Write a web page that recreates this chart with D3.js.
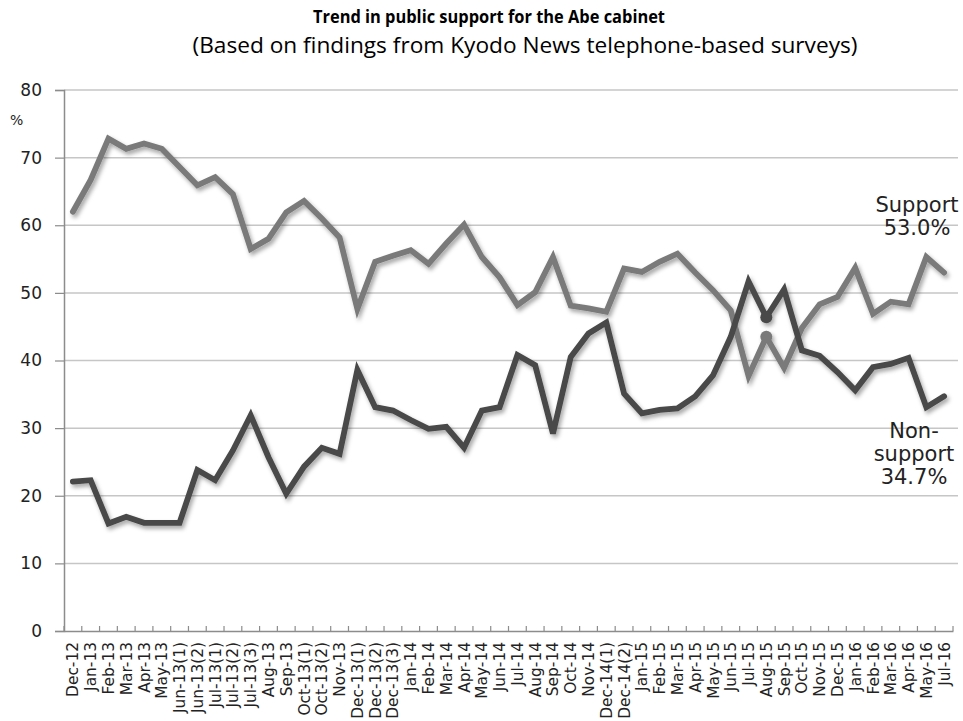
<!DOCTYPE html>
<html>
<head>
<meta charset="utf-8">
<script src="https://cdn.jsdelivr.net/npm/d3@7"></script>
<style>
  html, body { margin: 0; padding: 0; background: #fff; }
  svg { display: block; }
</style>
</head>
<body>
<svg id="chart" width="963" height="721"></svg>
<script>
// Survey rounds (Kyodo News telephone polls)
const categories = [
  "Dec-12","Jan-13","Feb-13","Mar-13","Apr-13","May-13","Jun-13(1)","Jun-13(2)",
  "Jul-13(1)","Jul-13(2)","Jul-13(3)","Aug-13","Sep-13","Oct-13(1)","Oct-13(2)","Nov-13",
  "Dec-13(1)","Dec-13(2)","Dec-13(3)","Jan-14","Feb-14","Mar-14","Apr-14","May-14",
  "Jun-14","Jul-14","Aug-14","Sep-14","Oct-14","Nov-14","Dec-14(1)","Dec-14(2)",
  "Jan-15","Feb-15","Mar-15","Apr-15","May-15","Jun-15","Jul-15","Aug-15",
  "Sep-15","Oct-15","Nov-15","Dec-15","Jan-16","Feb-16","Mar-16","Apr-16","May-16","Jul-16"
];

// Cabinet support rate (%)
const support = [
  62.0, 66.7, 72.8, 71.3, 72.1, 71.3, 68.6, 65.9,
  67.1, 64.6, 56.5, 58.0, 61.9, 63.6, 61.0, 58.2,
  47.6, 54.6, 55.5, 56.3, 54.3, 57.3, 60.1, 55.3,
  52.3, 48.2, 50.1, 55.3, 48.1, 47.7, 47.2, 53.6,
  53.1, 54.6, 55.8, 53.0, 50.4, 47.4, 37.7, 43.5,
  38.9, 44.8, 48.3, 49.4, 53.7, 46.9, 48.7, 48.3, 55.3, 53.0
];

// Non-support rate (%)
const nonSupport = [
  22.1, 22.3, 15.9, 16.9, 16.0, 16.0, 16.0, 23.8,
  22.3, 26.7, 31.9, 25.7, 20.3, 24.3, 27.1, 26.2,
  38.6, 33.1, 32.6, 31.2, 29.9, 30.2, 27.1, 32.6,
  33.1, 40.8, 39.3, 29.2, 40.5, 44.0, 45.6, 35.1,
  32.2, 32.7, 32.9, 34.7, 37.8, 43.5, 51.7, 46.4,
  50.5, 41.5, 40.7, 38.3, 35.6, 39.0, 39.5, 40.4, 33.1, 34.7
];

const yTicks = [0, 10, 20, 30, 40, 50, 60, 70, 80];
const markedRound = "Aug-15";

const svg = d3.select("#chart");

const x = d3.scaleBand().domain(categories).range([64, 953]).padding(0);
const y = d3.scaleLinear().domain([0, 80]).range([631, 90]);
const cx = d => x(d) + x.bandwidth() / 2;

// soft drop shadow under the lines
const defs = svg.append("defs");
const f = defs.append("filter").attr("id", "shadow")
  .attr("x", "-5%").attr("y", "-5%").attr("width", "110%").attr("height", "120%");
f.append("feDropShadow").attr("dx", 2).attr("dy", 3).attr("stdDeviation", 2)
  .attr("flood-color", "#000").attr("flood-opacity", 0.35);

// Titles
svg.append("text").attr("x", 489).attr("y", 23).attr("text-anchor", "middle")
  .attr("font-family", "'Liberation Sans Narrow', 'Open Sans', sans-serif")
  .attr("font-weight", "bold").attr("font-size", 18).attr("fill", "#000")
  .attr("textLength", 352).attr("lengthAdjust", "spacingAndGlyphs")
  .text("Trend in public support for the Abe cabinet");
svg.append("text").attr("x", 525).attr("y", 53).attr("text-anchor", "middle")
  .attr("font-family", "'Liberation Sans Narrow', 'Open Sans', sans-serif")
  .attr("font-size", 21).attr("fill", "#000")
  .attr("textLength", 665).attr("lengthAdjust", "spacingAndGlyphs")
  .text("(Based on findings from  Kyodo  News telephone-based surveys)");

// Horizontal gridlines
svg.append("g").selectAll("line").data(yTicks.filter(t => t > 0)).join("line")
  .attr("x1", 64).attr("x2", 958)
  .attr("y1", d => y(d)).attr("y2", d => y(d))
  .attr("stroke", "#c6c6c6").attr("stroke-width", 1.5);

// Y axis
const yAxis = d3.axisLeft(y).tickValues(yTicks).tickSize(9).tickPadding(13);
const gy = svg.append("g").attr("transform", "translate(64,0)").call(yAxis);
gy.select(".domain").attr("stroke", "#8c8c8c").attr("stroke-width", 1.5);
gy.selectAll(".tick line").attr("stroke", "#8c8c8c").attr("stroke-width", 1.2);
gy.selectAll(".tick text").attr("font-family", "'DejaVu Sans', Verdana, sans-serif")
  .attr("font-size", 17).attr("fill", "#222");

svg.append("text").attr("x", 10).attr("y", 125)
  .attr("font-family", "'DejaVu Sans', Verdana, sans-serif")
  .attr("font-size", 14).attr("fill", "#222").text("%");

// X axis
const xAxis = d3.axisBottom(x).tickSize(0).tickPadding(0);
const gx = svg.append("g").attr("transform", "translate(0,631)").call(xAxis);
gx.select(".domain").attr("stroke", "#8c8c8c").attr("stroke-width", 1.5);
gx.selectAll(".tick text")
  .attr("font-family", "'DejaVu Sans', Verdana, sans-serif")
  .attr("font-size", 15.4).attr("fill", "#222")
  .attr("text-anchor", "end").attr("dy", "0.36em")
  .attr("transform", "translate(0,11) rotate(-90)");

// Category boundary ticks, pointing up into the plot
svg.append("g").selectAll("line").data(d3.range(categories.length + 1)).join("line")
  .attr("x1", i => i < categories.length ? x(categories[i]) : x.range()[1])
  .attr("x2", i => i < categories.length ? x(categories[i]) : x.range()[1])
  .attr("y1", 631).attr("y2", 626)
  .attr("stroke", "#8c8c8c").attr("stroke-width", 1.2);

// Lines
const line = vals => d3.line()
  .x((d, i) => cx(categories[i]))
  .y(d => y(d))(vals);

const series = [
  { values: support, color: "#7a7a7a" },
  { values: nonSupport, color: "#484848" }
];

const gLines = svg.append("g").attr("filter", "url(#shadow)");
series.forEach(s => {
  gLines.append("path").attr("d", line(s.values))
    .attr("fill", "none").attr("stroke", s.color)
    .attr("stroke-width", 5.8).attr("stroke-linejoin", "miter").attr("stroke-linecap", "round");
});

// Markers on the Aug-15 round
const mi = categories.indexOf(markedRound);
series.forEach(s => {
  gLines.append("circle").attr("cx", cx(markedRound)).attr("cy", y(s.values[mi]))
    .attr("r", 6).attr("fill", s.color);
});

// End labels
const lblFont = "'DejaVu Sans', Verdana, sans-serif";
const last = categories.length - 1;
const endLabels = [
  { lines: ["Support", support[last].toFixed(1) + "%"], y0: 212, x: 917 },
  { lines: ["Non-", "support", nonSupport[last].toFixed(1) + "%"], y0: 438, x: 914 }
];
endLabels.forEach(l => {
  const t = svg.append("text").attr("font-family", lblFont).attr("font-size", 21)
    .attr("fill", "#222").attr("text-anchor", "middle");
  l.lines.forEach((s, i) => {
    t.append("tspan").attr("x", l.x).attr("y", l.y0 + i * 23).text(s);
  });
});
</script>
</body>
</html>
